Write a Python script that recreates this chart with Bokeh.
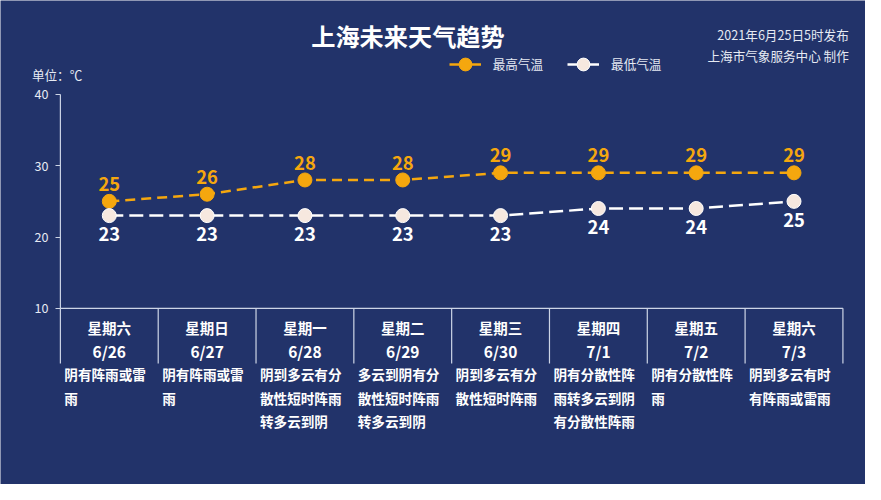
from bokeh.plotting import figure
from bokeh.models import (Range1d, LinearAxis, FixedTicker, Label, Legend, LegendItem)
from bokeh.core.properties import value
from bokeh.embed import file_html
from bokeh.resources import INLINE

# ---- data ----
weekdays = ["星期六", "星期日", "星期一", "星期二", "星期三", "星期四", "星期五", "星期六"]
dates = ["6/26", "6/27", "6/28", "6/29", "6/30", "7/1", "7/2", "7/3"]
high_temp = [25, 26, 28, 28, 29, 29, 29, 29]
low_temp = [23, 23, 23, 23, 23, 24, 24, 25]
weather = ["阴有阵雨或雷雨", "阴有阵雨或雷雨", "阴到多云有分散性短时阵雨转多云到阴",
           "多云到阴有分散性短时阵雨转多云到阴", "阴到多云有分散性短时阵雨",
           "阴有分散性阵雨转多云到阴有分散性阵雨", "阴有分散性阵雨", "阴到多云有时有阵雨或雷雨"]
y_ticks = [10, 20, 30, 40]
title_text = "上海未来天气趋势"
issue_text = "2021年6月25日5时发布"
maker_text = "上海市气象服务中心 制作"
unit_text = "单位：℃"
legend_names = ["最高气温", "最低气温"]

# ---- style ----
BG = "#22336a"
ORANGE = "#f5a70e"
LOWC = "#f6e8df"
AXC = "#cdd5e6"
TXT = "#ffffff"
SUB = "#e6eaf3"
FONT = "Noto Sans CJK SC"

W, H = 865, 484
SX, SY = W / 881, H / 500          # reference layout -> canvas
n = len(dates)
x0_px = 61 * SX                     # left edge of first day column
col_px = (858 - 61) * SX / n        # one day column in pixels
y40_px = 97 * SY
y10_px = 318 * SY
ppu = (y10_px - y40_px) / 30        # pixels per degree


def xd(rx):
    return (rx * SX - x0_px) / col_px


def yd(ry):
    return 40 - (ry * SY - y40_px) / ppu


def fs(px):
    return f"{px * SY:.1f}px"


p = figure(width=W, height=H, output_backend="svg", toolbar_location=None,
           x_range=Range1d(-x0_px / col_px, (W - x0_px) / col_px),
           y_range=Range1d(40 - (H - y40_px) / ppu, 40 + y40_px / ppu),
           min_border_left=0, min_border_right=0, min_border_top=0, min_border_bottom=0,
           x_axis_location=None, y_axis_location=None)
p.background_fill_color = BG
p.border_fill_color = BG
p.outline_line_color = None
p.xgrid.visible = False
p.ygrid.visible = False

yaxis = LinearAxis(fixed_location=0, ticker=FixedTicker(ticks=y_ticks))
yaxis.axis_line_color = None
yaxis.major_tick_line_color = AXC
yaxis.major_tick_line_width = 1.2
yaxis.major_tick_in = 0
yaxis.major_tick_out = 5
yaxis.minor_tick_line_color = None
yaxis.major_label_text_color = SUB
yaxis.major_label_text_font = FONT
yaxis.major_label_text_font_size = fs(13)
yaxis.major_label_standoff = 7
p.add_layout(yaxis, "left")

xs = [i + 0.5 for i in range(n)]
div_bottom = yd(375)

# axis line, baseline and column dividers
p.segment(x0=[0], y0=[40], x1=[0], y1=[10], line_color=AXC, line_width=1.2)
p.segment(x0=[0], y0=[10], x1=[n], y1=[10], line_color=AXC, line_width=1.2)
div_x = list(range(n + 1))
p.segment(x0=div_x, y0=[10] * (n + 1), x1=div_x, y1=[div_bottom] * (n + 1),
          line_color=AXC, line_width=1.2)

# lines
hl = p.line(xs, high_temp, line_color=ORANGE, line_width=2.5, line_dash="10 6")
ll = p.line(xs, low_temp, line_color="#ffffff", line_width=2.5, line_dash="14 6")
# solid copies used only as legend glyphs (hidden in the plot)
hp = p.line(xs, high_temp, line_color=ORANGE, line_width=2.5, visible=False)
lp = p.line(xs, low_temp, line_color="#ffffff", line_width=2.5, visible=False)
hs = p.scatter(xs, high_temp, size=14, fill_color=ORANGE, line_color=ORANGE)
ls = p.scatter(xs, low_temp, size=14, fill_color=LOWC, line_color="#ffffff", line_width=1)

p.text(xs, high_temp, text=[str(v) for v in high_temp], text_color=ORANGE,
       text_font=value(FONT), text_font_style="bold", text_font_size=fs(19),
       text_align="center", text_baseline="middle", y_offset=-18 * SY)
p.text(xs, low_temp, text=[str(v) for v in low_temp], text_color=TXT,
       text_font=value(FONT), text_font_style="bold", text_font_size=fs(19),
       text_align="center", text_baseline="middle", y_offset=19 * SY)

# day / date labels
p.text(xs, [10] * n, text=weekdays, text_color=TXT, text_font=value(FONT),
       text_font_style="bold", text_font_size=fs(15), text_align="center",
       text_baseline="middle", y_offset=20 * SY)
p.text(xs, [10] * n, text=dates, text_color=TXT, text_font=value(FONT),
       text_font_style="bold", text_font_size=fs(16), text_align="center",
       text_baseline="middle", y_offset=44 * SY)

# weather descriptions, wrapped at 6 characters
wrapped = ["\n".join(s[k:k + 6] for k in range(0, len(s), 6)) for s in weather]
p.text(list(range(n)), [10] * n, text=wrapped, text_color=TXT, text_font=value(FONT),
       text_font_style="bold", text_font_size=fs(14), text_align="left",
       text_baseline="top", x_offset=4 * SX, y_offset=58 * SY, text_line_height=1.17)

# titles
p.add_layout(Label(x=xd(415), y=yd(36), text=title_text, text_color=TXT,
                   text_font=FONT, text_font_style="bold", text_font_size=fs(25),
                   text_align="center", text_baseline="middle"))
p.add_layout(Label(x=xd(864), y=yd(35), text=issue_text, text_color=SUB,
                   text_font=FONT, text_font_size=fs(13),
                   text_align="right", text_baseline="middle"))
p.add_layout(Label(x=xd(864), y=yd(57), text=maker_text, text_color=SUB,
                   text_font=FONT, text_font_size=fs(13),
                   text_align="right", text_baseline="middle"))
p.add_layout(Label(x=xd(32), y=yd(76), text=unit_text, text_color=SUB,
                   text_font=FONT, text_font_size=fs(13),
                   text_align="left", text_baseline="middle"))

# legend
GH = 32
legend = Legend(items=[LegendItem(label=legend_names[0], renderers=[hp, hs]),
                       LegendItem(label=legend_names[1], renderers=[lp, ls])],
                orientation="horizontal",
                location=(457 * SX, H - 66 * SY - GH / 2),
                glyph_width=GH, glyph_height=GH, label_standoff=12, spacing=24,
                padding=0, margin=0, border_line_color=None,
                background_fill_alpha=0, inactive_fill_alpha=0,
                label_text_color=SUB, label_text_font=FONT, label_text_font_size=fs(13),
                click_policy="none")
p.add_layout(legend, "center")

open("out.html", "w").write(file_html(p, INLINE))
